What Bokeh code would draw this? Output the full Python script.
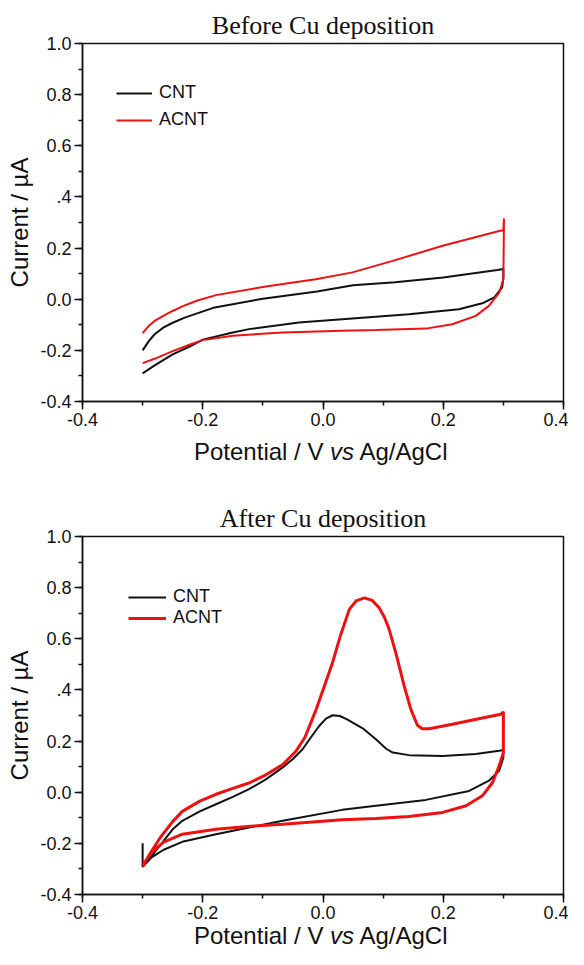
from bokeh.plotting import figure
from bokeh.layouts import column
from bokeh.models import FixedTicker, Legend, LegendItem, Range1d, Div
from bokeh.embed import file_html
from bokeh.resources import INLINE

# ---------------- data ----------------
x_ticks = [-0.4, -0.2, 0.0, 0.2, 0.4]
x_tick_labels = ["-0.4", "-0.2", "0.0", "0.2", "0.4"]
x_minor = [-0.4, -0.3, -0.2, -0.1, 0.0, 0.1, 0.2, 0.3, 0.4]
y_ticks = [-0.4, -0.2, 0.0, 0.2, 0.4, 0.6, 0.8, 1.0]
y_tick_labels = ["-0.4", "-0.2", "0.0", "0.2", ".4", "0.6", "0.8", "1.0"]
y_minor = [-0.4, -0.3, -0.2, -0.1, 0.0, 0.1, 0.2, 0.3, 0.4, 0.5, 0.6, 0.7, 0.8, 0.9, 1.0]

titles = ["Before Cu deposition", "After Cu deposition"]
series_names = ["CNT", "ACNT"]
y_label = "Current / µA"
x_label_html = "Potential / V <i>vs</i> Ag/AgCl"

# Before Cu deposition
before_cnt_x = [-0.300, -0.290, -0.280, -0.265, -0.250, -0.230, -0.180, -0.100, -0.010, 0.050, 0.120, 0.200,
                0.290, 0.300, 0.300, 0.298, 0.285, 0.265, 0.226, 0.143, 0.032, -0.040, -0.123, -0.150,
                -0.200, -0.220, -0.250, -0.280, -0.300]
before_cnt_y = [-0.200, -0.165, -0.137, -0.110, -0.092, -0.072, -0.032, 0.002, 0.030, 0.055, 0.066, 0.085,
                0.114, 0.118, 0.085, 0.046, 0.007, -0.016, -0.039, -0.059, -0.078, -0.091, -0.117, -0.130,
                -0.158, -0.183, -0.216, -0.259, -0.290]
before_acnt_x = [-0.300, -0.290, -0.280, -0.265, -0.250, -0.234, -0.210, -0.178, -0.095, -0.012, 0.049,
                 0.116, 0.199, 0.293, 0.300, 0.301, 0.300, 0.293, 0.276, 0.254, 0.215, 0.171, 0.088, 0.032,
                 -0.067, -0.150, -0.200, -0.220, -0.250, -0.280, -0.300]
before_acnt_y = [-0.133, -0.105, -0.085, -0.064, -0.046, -0.028, -0.006, 0.016, 0.050, 0.078, 0.105,
                 0.150, 0.209, 0.267, 0.270, 0.316, 0.078, 0.026, -0.026, -0.065, -0.098, -0.115, -0.120,
                 -0.123, -0.130, -0.143, -0.160, -0.176, -0.203, -0.233, -0.250]

# After Cu deposition
after_cnt_x = [-0.300, -0.300, -0.285, -0.270, -0.250, -0.234, -0.205, -0.178, -0.150, -0.123, -0.095,
               -0.067, -0.050, -0.034, -0.020, -0.006, 0.005, 0.016, 0.028, 0.040, 0.066, 0.088, 0.105,
               0.116, 0.143, 0.199, 0.254, 0.293, 0.300, 0.300, 0.293, 0.276, 0.243, 0.171, 0.088, 0.032,
               -0.067, -0.123, -0.178, -0.234, -0.265, -0.285, -0.300]
after_cnt_y = [-0.200, -0.292, -0.250, -0.205, -0.145, -0.112, -0.075, -0.047, -0.018, 0.012, 0.050,
               0.097, 0.130, 0.168, 0.215, 0.260, 0.288, 0.301, 0.298, 0.285, 0.250, 0.207, 0.170,
               0.155, 0.145, 0.142, 0.149, 0.162, 0.165, 0.136, 0.084, 0.045, 0.005, -0.030, -0.053, -0.069,
               -0.112, -0.138, -0.164, -0.194, -0.225, -0.255, -0.292]
after_acnt_x = [-0.300, -0.285, -0.270, -0.250, -0.234, -0.205, -0.178, -0.150, -0.123, -0.095, -0.067,
                -0.045, -0.030, -0.012, 0.000, 0.015, 0.030, 0.044, 0.055, 0.069, 0.082, 0.093, 0.102,
                0.110, 0.121, 0.135, 0.146, 0.157, 0.165, 0.177, 0.215, 0.265, 0.296, 0.300, 0.300,
                0.293, 0.282, 0.265, 0.238, 0.199, 0.143, 0.088, 0.032, -0.067, -0.120, -0.178, -0.234,
                -0.265, -0.285, -0.300]
after_acnt_y = [-0.290, -0.230, -0.175, -0.115, -0.075, -0.035, -0.008, 0.015, 0.036, 0.068, 0.108,
                0.160, 0.215, 0.320, 0.400, 0.500, 0.620, 0.716, 0.748, 0.760, 0.750, 0.722, 0.685,
                0.637, 0.546, 0.416, 0.325, 0.262, 0.248, 0.248, 0.266, 0.290, 0.305, 0.315, 0.155,
                0.103, 0.038, -0.014, -0.053, -0.079, -0.095, -0.103, -0.108, -0.125, -0.133, -0.145, -0.164,
                -0.195, -0.235, -0.285]

BLACK = "#111111"
RED = "#ee1111"
SANS = "Liberation Sans"
SERIF = "Liberation Serif"


def make_plot(title, height, border_top, border_bottom, cnt, acnt, red_width,
              leg_x, leg_y, leg_spacing, glyph_w, standoff):
    p = figure(width=568, height=height, output_backend="svg", toolbar_location=None,
               x_range=Range1d(-0.4, 0.4), y_range=Range1d(-0.4, 1.0),
               min_border_left=82, min_border_right=5,
               min_border_top=border_top, min_border_bottom=border_bottom,
               title=title)
    p.title.text_font = SERIF
    p.title.text_font_size = "26px"
    p.title.text_font_style = "normal"
    p.title.text_color = "#111111"
    p.title.align = "center"
    p.title.standoff = 7

    p.xgrid.visible = False
    p.ygrid.visible = False
    p.outline_line_color = "#111111"
    p.outline_line_width = 1.5
    p.outline_line_alpha = 1.0

    p.xaxis.ticker = FixedTicker(ticks=x_ticks, minor_ticks=x_minor)
    p.yaxis.ticker = FixedTicker(ticks=y_ticks, minor_ticks=y_minor)
    p.xaxis.major_label_overrides = {t: l for t, l in zip(x_ticks, x_tick_labels)}
    p.yaxis.major_label_overrides = {t: l for t, l in zip(y_ticks, y_tick_labels)}

    for ax in (p.xaxis, p.yaxis):
        ax.axis_line_color = "#111111"
        ax.axis_line_width = 1.5
        ax.major_tick_line_color = "#111111"
        ax.major_tick_line_width = 1.5
        ax.minor_tick_line_color = "#111111"
        ax.minor_tick_line_width = 1.5
        ax.major_tick_in = 0
        ax.major_tick_out = 8
        ax.minor_tick_in = 0
        ax.minor_tick_out = 4
        ax.major_label_text_font = SANS
        ax.major_label_text_font_size = "18px"
        ax.major_label_text_color = "#111111"
        ax.major_label_standoff = 3
        ax.axis_label_text_font = SANS
        ax.axis_label_text_font_size = "24px"
        ax.axis_label_text_font_style = "normal"
        ax.axis_label_text_color = "#111111"

    p.yaxis.axis_label = y_label
    p.yaxis.axis_label_standoff = 4

    r1 = p.line(cnt[0], cnt[1], line_color=BLACK, line_width=2)
    r2 = p.line(acnt[0], acnt[1], line_color=RED, line_width=red_width)

    leg = Legend(items=[LegendItem(label=series_names[0], renderers=[r1]),
                        LegendItem(label=series_names[1], renderers=[r2])],
                 location=(leg_x, leg_y), padding=0, margin=0, spacing=leg_spacing,
                 glyph_width=glyph_w, glyph_height=20, label_height=20,
                 label_standoff=standoff, border_line_color=None,
                 background_fill_alpha=0, label_text_font=SANS,
                 label_text_font_size="18px", label_text_color="#111111")
    p.add_layout(leg, "center")
    return p


def make_xlabel(height, line_height):
    return Div(text='<span style="margin-left:194px">' + x_label_html + '</span>',
               width=568, height=height, margin=0,
               styles={"font-family": SANS, "font-size": "24px", "line-height": line_height,
                       "color": "#111111", "white-space": "nowrap", "text-align": "left"})


p1 = make_plot(titles[0], 437, 43, 36, (before_cnt_x, before_cnt_y),
               (before_acnt_x, before_acnt_y), 2, 34, 271, 6, 36, 7)
d1 = make_xlabel(35, "29px")
p2 = make_plot(titles[1], 454, 64, 32, (after_cnt_x, after_cnt_y),
               (after_acnt_x, after_acnt_y), 3, 46, 266, 0, 38, 7)
d2 = make_xlabel(23, "20px")

layout = column(p1, d1, p2, d2, spacing=0)
open("out.html", "w").write(file_html(layout, INLINE))
